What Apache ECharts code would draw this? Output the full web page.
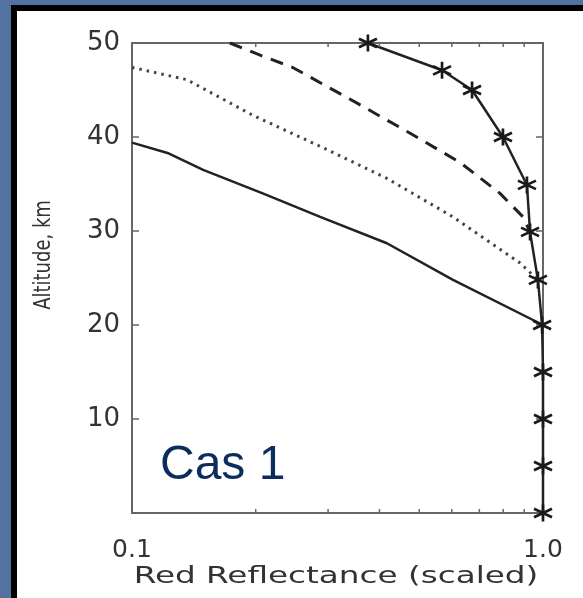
<!DOCTYPE html>
<html>
<head>
<meta charset="utf-8">
<script src="https://cdn.jsdelivr.net/npm/echarts@6/dist/echarts.min.js"></script>
<style>
html,body{margin:0;padding:0;background:#52739f;}
#main{width:583px;height:598px;}
</style>
</head>
<body>
<div id="main"></div>
<script>
// ---- data ----
const starX   = [0.375, 0.568, 0.672, 0.799, 0.914, 0.930, 0.972, 0.995, 1.0, 1.0, 1.0, 1.0];
const starY   = [50, 47.1, 45, 40, 34.9, 29.9, 24.8, 20, 15, 10, 5, 0];
const solidX  = [0.1, 0.122, 0.149, 0.208, 0.287, 0.417, 0.604, 1.0];
const solidY  = [39.4, 38.3, 36.5, 34.0, 31.5, 28.7, 24.8, 20];
const dottedX = [0.1, 0.136, 0.197, 0.287, 0.417, 0.604, 0.879, 0.972];
const dottedY = [47.4, 46.1, 42.3, 39.0, 35.6, 31.5, 26.6, 24.8];
const dashedX = [0.173, 0.205, 0.246, 0.315, 0.353, 0.475, 0.628, 0.786, 0.894, 0.930];
const dashedY = [50, 48.7, 47.4, 44.8, 43.6, 40.4, 37.3, 34.0, 31.5, 29.9];
const xMinorTicks = [0.2, 0.3, 0.4, 0.5, 0.6, 0.7, 0.8, 0.9];
const xRange = [0.1, 1.0];
const yRange = [0, 50];
const xTitle = 'Red Reflectance (scaled)';
const yTitle = 'Altitude, km';
const panelLabel = 'Cas 1';

const zip = (a, b) => a.map((v, i) => [v, b[i]]);
const asterisk = 'path://M0,-10L0,10M-8.66,-5L8.66,5M-8.66,5L8.66,-5';

const chart = echarts.init(document.getElementById('main'), null, {renderer: 'canvas'});
const axisCol = '#666';
const textCol = '#333';
const labelFont = 'DejaVu Sans';

const baseX = {
  type: 'log', logBase: 10, min: xRange[0], max: xRange[1],
  axisLine: {show: true, onZero: false, lineStyle: {color: axisCol, width: 2}},
  axisTick: {show: true, inside: true, length: 7, lineStyle: {color: axisCol, width: 1.5}},
  splitLine: {show: false}
};
const baseY = {
  type: 'value', min: yRange[0], max: yRange[1], interval: 10,
  axisLine: {show: true, onZero: false, lineStyle: {color: axisCol, width: 2}},
  axisTick: {show: true, inside: true, length: 7, lineStyle: {color: axisCol, width: 1.5}},
  splitLine: {show: false}
};

chart.setOption({
  backgroundColor: '#52739f',
  animation: false,
  graphic: [
    {type: 'rect', shape: {x: 11, y: 5, width: 600, height: 620}, style: {fill: '#000'}, z: -10},
    {type: 'rect', shape: {x: 17, y: 11, width: 600, height: 620}, style: {fill: '#fff'}, z: -9},
    {type: 'text', left: 160, top: 442, z: 10,
     style: {text: panelLabel, fill: '#0b2c5c', font: '48px "Liberation Sans", Arial, sans-serif'}},
    // axis titles (the source figure is stretched horizontally)
    {type: 'text', x: 336, y: 577, scaleX: 1.42, z: 10,
     style: {text: xTitle, fill: textCol, align: 'center', verticalAlign: 'middle',
             font: '23px "DejaVu Sans"'}},
    {type: 'text', x: 44, y: 255, rotation: Math.PI / 2, scaleY: 1.3, z: 10,
     style: {text: yTitle, fill: textCol, align: 'center', verticalAlign: 'middle',
             font: '18px "DejaVu Sans"'}}
  ],
  grid: {left: 132, right: 40, top: 43, bottom: 85, containLabel: false},
  xAxis: [
    Object.assign({}, baseX, {
      position: 'bottom',
      axisLabel: {color: textCol, fontFamily: labelFont, fontSize: 25, margin: 25,
                  formatter: v => Number(v).toFixed(1)}
    }),
    Object.assign({}, baseX, {position: 'top', axisLabel: {show: false}})
  ],
  yAxis: [
    Object.assign({}, baseY, {
      position: 'left',
      axisLabel: {color: textCol, fontFamily: labelFont, fontSize: 26, margin: 12,
                  formatter: v => v === 0 ? '' : String(v)}
    }),
    Object.assign({}, baseY, {position: 'right', axisLabel: {show: false}})
  ],
  series: [
    {
      type: 'line', data: zip(solidX, solidY), showSymbol: false, symbol: 'none',
      lineStyle: {color: '#222', width: 2.5}, z: 3
    },
    {
      type: 'line', data: zip(dottedX, dottedY), showSymbol: false, symbol: 'none',
      lineStyle: {color: '#444', width: 3, type: [2.5, 5]}, z: 3
    },
    {
      type: 'line', data: zip(dashedX, dashedY), showSymbol: false, symbol: 'none',
      lineStyle: {color: '#222', width: 3, type: [13, 9]}, z: 3
    },
    {
      type: 'line', data: zip(starX, starY), symbol: asterisk, symbolSize: [18, 17],
      showAllSymbol: true,
      lineStyle: {color: '#222', width: 2.5},
      itemStyle: {color: 'rgba(0,0,0,0)', borderColor: '#1a1a1a', borderWidth: 2.6},
      z: 4
    },
    {
      type: 'custom', clip: false, silent: true, z: 5,
      data: xMinorTicks.map(v => [v, yRange[0]]),
      renderItem: function (params, api) {
        const v = api.value(0);
        const b = api.coord([v, yRange[0]]);
        const t = api.coord([v, yRange[1]]);
        const st = {stroke: axisCol, lineWidth: 1.5};
        return {type: 'group', children: [
          {type: 'line', shape: {x1: b[0], y1: b[1], x2: b[0], y2: b[1] - 4}, style: st},
          {type: 'line', shape: {x1: t[0], y1: t[1], x2: t[0], y2: t[1] + 4}, style: st}
        ]};
      }
    }
  ]
});
</script>
</body>
</html>
